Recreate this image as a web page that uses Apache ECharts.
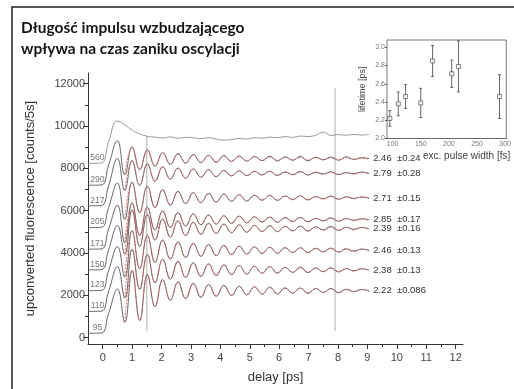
<!DOCTYPE html>
<html>
<head>
<meta charset="utf-8">
<script src="https://cdn.jsdelivr.net/npm/echarts@6/dist/echarts.min.js"></script>
<style>
  html, body { margin: 0; padding: 0; background: #fff; }
  #chart { width: 514px; height: 389px; }
</style>
</head>
<body>
<div id="chart"></div>
<script>
// delay grid (ps) shared by the measured traces; fits start at index 4
const T = [-0.5, -0.05, 0.2, 0.5, 0.75, 1.0, 1.26, 1.52, 1.78, 2.04, 2.3, 2.56, 2.82, 3.08, 3.34, 3.6, 3.86, 4.12, 4.38, 4.64,
  4.9, 5.16, 5.42, 5.68, 5.94, 6.2, 6.46, 6.72, 6.98, 7.24, 7.5, 7.76, 8.02, 8.28, 8.54, 8.8, 9.06];

// pulse widths (fs) of the traces, top to bottom
const traceWidths = [560, 290, 217, 205, 171, 150, 123, 110, 95];

// measured traces (counts/5s)
const data560 = [8230, 8250, 9250, 10230, 10050, 9800, 9620, 9510, 9470, 9430, 9480, 9420, 9460, 9440, 9400, 9450, 9380, 9330, 9360, 9410,
  9380, 9440, 9420, 9470, 9450, 9490, 9460, 9520, 9500, 9560, 9710, 9550, 9590, 9560, 9600, 9570, 9600];
const data290 = [7200, 7210, 8150, 9300, 7700, 9010, 7930, 8870, 8100, 8740, 8180, 8690, 8240, 8650, 8270, 8610, 8280, 8600, 8320, 8580,
  8330, 8560, 8360, 8570, 8340, 8540, 8380, 8560, 8350, 8520, 8400, 8530, 8380, 8540, 8420, 8500, 8460];
const data217 = [6230, 6240, 7180, 8460, 6950, 8370, 7190, 8210, 7380, 8080, 7480, 8010, 7530, 7970, 7580, 7930, 7600, 7900, 7640, 7880,
  7650, 7850, 7690, 7860, 7660, 7820, 7700, 7850, 7680, 7800, 7740, 7830, 7700, 7790, 7750, 7820, 7760];
const data205 = [5200, 5210, 6150, 7300, 5580, 7350, 5900, 7160, 6140, 6990, 6260, 6910, 6330, 6850, 6370, 6810, 6400, 6780, 6440, 6750,
  6450, 6730, 6490, 6720, 6480, 6690, 6530, 6700, 6500, 6660, 6560, 6690, 6540, 6650, 6580, 6640, 6600];
const data171 = [4180, 4190, 5130, 6250, 4480, 6370, 4820, 6170, 5080, 5990, 5200, 5910, 5270, 5850, 5330, 5800, 5360, 5760, 5400, 5740,
  5420, 5710, 5460, 5700, 5440, 5670, 5490, 5680, 5470, 5630, 5530, 5660, 5500, 5620, 5550, 5610, 5570];
const data150 = [3200, 3210, 4150, 5300, 3940, 6040, 4310, 5820, 4600, 5610, 4750, 5520, 4820, 5450, 4880, 5400, 4920, 5370, 4950, 5330,
  4980, 5300, 5010, 5290, 5000, 5260, 5040, 5270, 5030, 5230, 5090, 5250, 5070, 5210, 5120, 5200, 5150];
const data123 = [2220, 2230, 3170, 4300, 2860, 5060, 3250, 4830, 3550, 4620, 3710, 4520, 3780, 4460, 3840, 4400, 3870, 4360, 3920, 4320,
  3950, 4290, 3980, 4270, 3980, 4250, 4020, 4250, 4010, 4220, 4060, 4230, 4040, 4190, 4090, 4180, 4130];
const data110 = [1240, 1250, 2190, 3350, 1870, 4180, 2280, 3930, 2590, 3710, 2760, 3610, 2840, 3540, 2890, 3490, 2930, 3440, 2980, 3410,
  3000, 3370, 3040, 3360, 3040, 3320, 3080, 3330, 3070, 3290, 3120, 3300, 3100, 3260, 3160, 3250, 3200];
const data95 = [210, 220, 1150, 2300, 720, 3180, 800, 2980, 1470, 2740, 1760, 2640, 1840, 2570, 1900, 2510, 1950, 2470, 1990, 2430,
  2020, 2400, 2050, 2390, 2060, 2350, 2100, 2350, 2090, 2320, 2140, 2320, 2120, 2280, 2180, 2270, 2220];

// fitted damped oscillations (red), from 0.75 ps on
const fit290 = [7740, 8970, 7960, 8840, 8130, 8710, 8220, 8660, 8260, 8620, 8300, 8590, 8320, 8570, 8340, 8550, 8360, 8540, 8370, 8530,
  8380, 8520, 8390, 8510, 8400, 8500, 8400, 8490, 8410, 8490, 8410, 8480, 8420];
const fit217 = [6980, 8330, 7220, 8180, 7410, 8050, 7510, 7990, 7560, 7950, 7590, 7910, 7620, 7890, 7640, 7870, 7660, 7860, 7670, 7840,
  7680, 7830, 7690, 7820, 7700, 7820, 7710, 7810, 7720, 7800, 7720, 7800, 7730];
const fit205 = [5630, 7310, 5930, 7130, 6170, 6960, 6290, 6890, 6350, 6830, 6390, 6790, 6420, 6760, 6450, 6740, 6470, 6720, 6490, 6710,
  6500, 6690, 6510, 6680, 6530, 6670, 6540, 6660, 6540, 6650, 6550, 6650, 6560];
const fit171 = [4530, 6330, 4850, 6130, 5110, 5950, 5230, 5870, 5300, 5820, 5350, 5770, 5380, 5740, 5410, 5720, 5430, 5700, 5450, 5680,
  5470, 5670, 5480, 5660, 5490, 5640, 5500, 5630, 5510, 5630, 5520, 5620, 5520];
const fit150 = [3980, 6010, 4340, 5780, 4630, 5580, 4770, 5490, 4840, 5430, 4900, 5380, 4940, 5340, 4970, 5320, 5000, 5290, 5020, 5280,
  5030, 5260, 5050, 5250, 5060, 5230, 5070, 5220, 5080, 5210, 5090, 5210, 5100];
const fit123 = [2900, 5030, 3280, 4800, 3580, 4590, 3730, 4490, 3810, 4430, 3860, 4370, 3910, 4330, 3940, 4310, 3970, 4280, 3990, 4260,
  4010, 4250, 4020, 4230, 4040, 4220, 4050, 4210, 4060, 4200, 4070, 4190, 4080];
const fit110 = [1900, 4150, 2300, 3900, 2620, 3680, 2780, 3580, 2860, 3510, 2920, 3460, 2970, 3420, 3000, 3390, 3030, 3360, 3050, 3340,
  3070, 3320, 3090, 3310, 3100, 3290, 3110, 3280, 3130, 3270, 3140, 3260, 3140];
const fit95 = [750, 3150, 850, 2950, 1500, 2700, 1800, 2600, 1880, 2530, 1940, 2480, 1990, 2440, 2020, 2400, 2050, 2380, 2070, 2360,
  2090, 2340, 2110, 2330, 2120, 2310, 2130, 2300, 2150, 2290, 2160, 2280, 2160];

// inset: lifetime vs excitation pulse width
const insetWidth = [95, 110, 123, 150, 171, 205, 217, 290];
const insetLife = [2.22, 2.38, 2.46, 2.39, 2.85, 2.71, 2.79, 2.46];
const insetErr = [0.086, 0.13, 0.13, 0.16, 0.17, 0.15, 0.28, 0.24];

// grey vertical markers (ps) and their extent
const markerTimes = [1.5, 7.9];
const markerTop = [9530, 11800];
const markerBottom = 310;

// tick values
const xTicks = [0, 1, 2, 3, 4, 5, 6, 7, 8, 9, 10, 11, 12];
const xMinor = [0.5, 1.5, 2.5, 3.5, 4.5, 5.5, 6.5, 7.5, 8.5, 9.5, 10.5, 11.5];
const yTicks = [0, 2000, 4000, 6000, 8000, 10000, 12000];
const yMinor = [1000, 3000, 5000, 7000, 9000, 11000];
const insetXTicks = [100, 150, 200, 250, 300];
const insetXMinor = [100, 125, 150, 175, 200, 225, 250, 275, 300];
const insetYTicks = [2.0, 2.2, 2.4, 2.6, 2.8, 3.0];

const traceData = [data560, data290, data217, data205, data171, data150, data123, data110, data95];
const fitData = [null, fit290, fit217, fit205, fit171, fit150, fit123, fit110, fit95];

const chart = echarts.init(document.getElementById('chart'));

const series = [];

markerTimes.forEach((t, i) => {
  series.push({
    type: 'line', xAxisIndex: 0, yAxisIndex: 0, silent: true, showSymbol: false, z: 1,
    data: [[t, markerBottom], [t, markerTop[i]]],
    lineStyle: { color: '#b0b0b0', width: 1 }
  });
});

traceWidths.forEach((w, k) => {
  const vals = traceData[k];
  const i = insetWidth.indexOf(w);
  series.push({
    type: 'line', xAxisIndex: 0, yAxisIndex: 0, silent: true, showSymbol: false, smooth: 0.45, z: 2,
    data: T.map((t, j) => [t, vals[j]]),
    lineStyle: { color: k === 0 ? '#8c8c8c' : '#555', width: 0.9 },
    endLabel: i < 0 ? { show: false } : {
      show: true,
      formatter: insetLife[i].toFixed(2) + '  \u00b1' + insetErr[i],
      color: '#333', fontSize: 9.5, distance: 4
    }
  });
  if (fitData[k]) {
    const f = fitData[k];
    series.push({
      type: 'line', xAxisIndex: 0, yAxisIndex: 0, silent: true, showSymbol: false, smooth: 0.45, z: 3,
      data: T.slice(4).map((t, j) => [t, f[j]]),
      lineStyle: { color: '#d95c5c', width: 1, type: [2, 1.5], opacity: 0.85 }
    });
  }
});

// pulse-width labels sitting on each trace's baseline
series.push({
  type: 'scatter', xAxisIndex: 0, yAxisIndex: 0, silent: true, symbolSize: 0, z: 4,
  data: traceWidths.map((w, k) => [-0.18, traceData[k][0], String(w)]),
  label: {
    show: true, position: 'top', distance: 1, fontSize: 8.5, color: '#555',
    formatter: p => p.data[2]
  }
});

// inset error bars
series.push({
  type: 'custom', xAxisIndex: 2, yAxisIndex: 2, silent: true, z: 5,
  encode: { x: 0, y: 1 },
  data: insetWidth.map((w, i) => [w, insetLife[i], insetErr[i]]),
  renderItem(params, api) {
    const x = api.value(0), y = api.value(1), e = api.value(2);
    const lo = api.coord([x, y - e]), hi = api.coord([x, y + e]);
    const style = { stroke: '#555', lineWidth: 0.9 };
    return {
      type: 'group', children: [
        { type: 'line', shape: { x1: lo[0], y1: lo[1], x2: hi[0], y2: hi[1] }, style },
        { type: 'line', shape: { x1: lo[0] - 1.5, y1: lo[1], x2: lo[0] + 1.5, y2: lo[1] }, style },
        { type: 'line', shape: { x1: hi[0] - 1.5, y1: hi[1], x2: hi[0] + 1.5, y2: hi[1] }, style }
      ]
    };
  }
});
series.push({
  type: 'scatter', xAxisIndex: 2, yAxisIndex: 2, silent: true, z: 6,
  symbol: 'rect', symbolSize: 4,
  data: insetWidth.map((w, i) => [w, insetLife[i]]),
  itemStyle: { color: '#fff', borderColor: '#444', borderWidth: 0.8 }
});

const axisCol = '#333';

const option = {
  animation: false,
  backgroundColor: '#fff',
  textStyle: { fontFamily: 'Liberation Sans, Arial, sans-serif' },
  title: {
    text: 'Długość impulsu wzbudzającego\nwpływa na czas zaniku oscylacji',
    left: 21, top: 17, padding: 0,
    textStyle: { fontFamily: 'Lato', fontWeight: 'bold', fontSize: 15.5, lineHeight: 21, color: '#151515' }
  },
  graphic: [
    {
      type: 'rect', silent: true, z: 100,
      shape: { x: 12, y: 7, width: 600, height: 500 },
      style: { fill: 'none', stroke: '#222', lineWidth: 1.5 }
    },
    {
      // inset x-axis title, set off to the right as in the original
      type: 'text', silent: true, z: 100, left: 423, top: 151,
      style: { text: 'exc. pulse width [fs]', fill: '#444', font: '10px "Liberation Sans", Arial, sans-serif' }
    }
  ],
  grid: [
    { left: 88, top: 73, right: 51, bottom: 41 },
    { left: 387, top: 40, right: 7, bottom: 250.5, show: true, borderColor: '#555', borderWidth: 0.8, backgroundColor: '#fff', z: 4 }
  ],
  xAxis: [
    {
      gridIndex: 0, type: 'value', min: -0.5, max: 12.25, position: 'bottom',
      axisLine: { show: true, onZero: false, lineStyle: { color: axisCol, width: 1 } },
      axisTick: { show: true, customValues: xTicks, length: 5, lineStyle: { color: axisCol } },
      axisLabel: { customValues: xTicks, fontSize: 11, color: '#444', margin: 8 },
      splitLine: { show: false },
      name: 'delay [ps]', nameLocation: 'middle', nameGap: 27,
      nameTextStyle: { fontSize: 13, color: '#333' }
    },
    {
      gridIndex: 0, type: 'value', min: -0.5, max: 12.25, position: 'bottom',
      axisLine: { show: false, onZero: false },
      axisTick: { show: true, customValues: xMinor, length: 3, lineStyle: { color: axisCol } },
      axisLabel: { show: false },
      splitLine: { show: false }
    },
    {
      gridIndex: 1, type: 'value', min: 90, max: 302, position: 'bottom',
      axisLine: { show: true, onZero: false, lineStyle: { color: '#555', width: 0.8 } },
      axisTick: { show: true, customValues: insetXMinor, inside: true, length: 2, lineStyle: { color: '#555' } },
      axisLabel: { customValues: insetXTicks, fontSize: 7, color: '#777', margin: 2 },
      splitLine: { show: false }
    }
  ],
  yAxis: [
    {
      gridIndex: 0, type: 'value', min: -300, max: 12500, position: 'left',
      axisLine: { show: true, onZero: false, lineStyle: { color: axisCol, width: 1 } },
      axisTick: { show: true, customValues: yTicks, length: 5, lineStyle: { color: axisCol } },
      axisLabel: { customValues: yTicks, fontSize: 11, color: '#444', margin: 3, formatter: v => String(v) },
      splitLine: { show: false },
      name: 'upconverted fluorescence [counts/5s]', nameLocation: 'middle', nameGap: 51,
      nameTextStyle: { fontSize: 13, color: '#333' }
    },
    {
      gridIndex: 0, type: 'value', min: -300, max: 12500, position: 'left',
      axisLine: { show: false, onZero: false },
      axisTick: { show: true, customValues: yMinor, length: 3, lineStyle: { color: axisCol } },
      axisLabel: { show: false },
      splitLine: { show: false }
    },
    {
      gridIndex: 1, type: 'value', min: 2.0, max: 3.08, position: 'left',
      axisLine: { show: true, onZero: false, lineStyle: { color: '#555', width: 0.8 } },
      axisTick: { show: true, customValues: insetYTicks, length: 2, lineStyle: { color: '#555' } },
      axisLabel: { customValues: insetYTicks, fontSize: 7, color: '#777', margin: 2, formatter: v => v.toFixed(1) },
      splitLine: { show: false },
      name: 'lifetime [ps]', nameLocation: 'middle', nameGap: 20,
      nameTextStyle: { fontSize: 9, color: '#444' }
    }
  ],
  series: series
};

chart.setOption(option);
</script>
</body>
</html>
